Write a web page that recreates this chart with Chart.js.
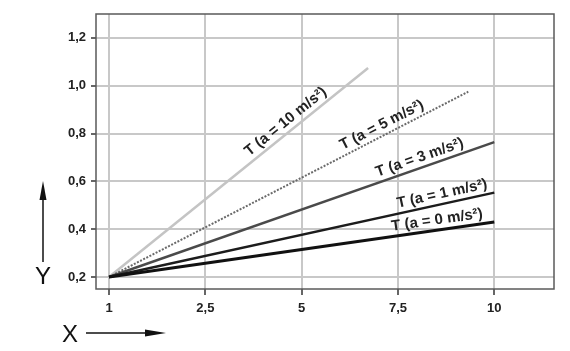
<!DOCTYPE html>
<html><head><meta charset="utf-8">
<script src="https://cdn.jsdelivr.net/npm/chart.js@4/dist/chart.umd.min.js"></script>
<style>html,body{margin:0;padding:0;background:#fff}#w{width:570px;height:351px}</style>
</head><body><div id="w"><canvas id="c"></canvas></div>
<script>
// x positions are in tick-slot units (the reference spaces its x ticks evenly)
const xTickLabels = ['1', '2,5', '5', '7,5', '10'];
const xTickPos = [0, 1, 2, 3, 4];
const yTicks = [0.2, 0.4, 0.6, 0.8, 1.0, 1.2];

const seriesNames = ['T (a = 0 m/s²)', 'T (a = 1 m/s²)', 'T (a = 3 m/s²)', 'T (a = 5 m/s²)', 'T (a = 10 m/s²)'];
const a0X = [0, 4],     a0Y = [0.2, 0.43];
const a1X = [0, 4],     a1Y = [0.2, 0.553];
const a3X = [0, 4],     a3Y = [0.2, 0.764];
const a5X = [0, 3.73],  a5Y = [0.2, 0.975];
const a10X = [0, 2.69], a10Y = [0.2, 1.074];
const labelAtX = [3.42, 3.48, 3.26, 2.88, 1.90];

const seriesX = [a0X, a1X, a3X, a5X, a10X];
const seriesY = [a0Y, a1Y, a3Y, a5Y, a10Y];
const styles = [
  {c:'#111111', w:3,   d:[]},
  {c:'#1c1c1c', w:2.5, d:[]},
  {c:'#4a4a4a', w:2.5, d:[]},
  {c:'#6a6a6a', w:2,   d:[2,1.5]},
  {c:'#c4c4c4', w:2.5, d:[]}
];

const datasets = seriesNames.map((n, i) => ({
  label: n,
  data: seriesX[i].map((x, j) => ({x: x, y: seriesY[i][j]})),
  borderColor: styles[i].c,
  borderWidth: styles[i].w,
  borderDash: styles[i].d,
  pointRadius: 0,
  fill: false,
  tension: 0
}));

const decor = {
  id: 'decor',
  beforeDatasetsDraw(chart) {
    const {ctx, chartArea: a} = chart;
    ctx.save();
    ctx.strokeStyle = '#5a5a5a';
    ctx.lineWidth = 1.5;
    ctx.strokeRect(a.left, a.top, a.right - a.left, a.bottom - a.top);
    ctx.restore();
  },
  afterDatasetsDraw(chart) {
    const {ctx} = chart;
    const xs = chart.scales.x, ys = chart.scales.y;
    ctx.save();
    ctx.font = 'bold 15px "Liberation Sans", Arial, sans-serif';
    ctx.fillStyle = '#222';
    ctx.textAlign = 'center';
    ctx.textBaseline = 'middle';
    seriesNames.forEach((n, i) => {
      const X = seriesX[i], Y = seriesY[i];
      const x0 = xs.getPixelForValue(X[0]), y0 = ys.getPixelForValue(Y[0]);
      const x1 = xs.getPixelForValue(X[1]), y1 = ys.getPixelForValue(Y[1]);
      const ang = Math.atan2(y1 - y0, x1 - x0);
      const lx = labelAtX[i];
      const t = (lx - X[0]) / (X[1] - X[0]);
      const ly = Y[0] + t * (Y[1] - Y[0]);
      ctx.save();
      ctx.translate(xs.getPixelForValue(lx), ys.getPixelForValue(ly));
      ctx.rotate(ang);
      ctx.fillText(n, 0, -10);
      ctx.restore();
    });
    // axis arrows and letters
    ctx.fillStyle = '#111';
    ctx.strokeStyle = '#111';
    ctx.lineWidth = 1.5;
    ctx.font = '24px "Liberation Sans", Arial, sans-serif';
    ctx.textAlign = 'center';
    ctx.textBaseline = 'middle';
    ctx.fillText('Y', 43, 277);
    ctx.fillText('X', 70, 335);
    ctx.beginPath(); ctx.moveTo(43, 262); ctx.lineTo(43, 195); ctx.stroke();
    ctx.beginPath(); ctx.moveTo(43, 181); ctx.lineTo(39.5, 200); ctx.lineTo(46.5, 200); ctx.closePath(); ctx.fill();
    ctx.beginPath(); ctx.moveTo(86, 333); ctx.lineTo(150, 333); ctx.stroke();
    ctx.beginPath(); ctx.moveTo(166, 333); ctx.lineTo(145, 329.5); ctx.lineTo(145, 336.5); ctx.closePath(); ctx.fill();
    ctx.restore();
  }
};

new Chart(document.getElementById('c'), {
  type: 'line',
  data: {datasets},
  options: {
    responsive: true,
    maintainAspectRatio: false,
    animation: false,
    layout: {padding: {top: 14, right: 16, bottom: 0, left: 0}},
    plugins: {legend: {display: false}, tooltip: {enabled: false}},
    scales: {
      x: {
        type: 'linear', min: -0.135, max: 4.62,
        afterBuildTicks(s) { s.ticks = xTickPos.map(v => ({value: v})); },
        afterFit(s) { s.height = 62; },
        ticks: {
          callback: (v) => xTickLabels[xTickPos.indexOf(v)] ?? '',
          color: '#222', font: {size: 13, weight: 'bold', family: '"Liberation Sans", Arial, sans-serif'},
          padding: 6, maxRotation: 0, autoSkip: false
        },
        grid: {color: '#c8c8c8', lineWidth: 2, tickColor: '#333', tickLength: 6, tickWidth: 1.5},
        border: {display: false}
      },
      y: {
        type: 'linear', min: 0.15, max: 1.3,
        afterBuildTicks(s) { s.ticks = yTicks.map(v => ({value: v})); },
        afterFit(s) { s.width = 96; },
        ticks: {
          callback: (v) => v.toFixed(1).replace('.', ','),
          color: '#222', font: {size: 13, weight: 'bold', family: '"Liberation Sans", Arial, sans-serif'},
          padding: 5
        },
        grid: {color: '#c8c8c8', lineWidth: 2, tickColor: '#333', tickLength: 5, tickWidth: 1.5},
        border: {display: false}
      }
    }
  },
  plugins: [decor]
});
</script>
</body></html>
